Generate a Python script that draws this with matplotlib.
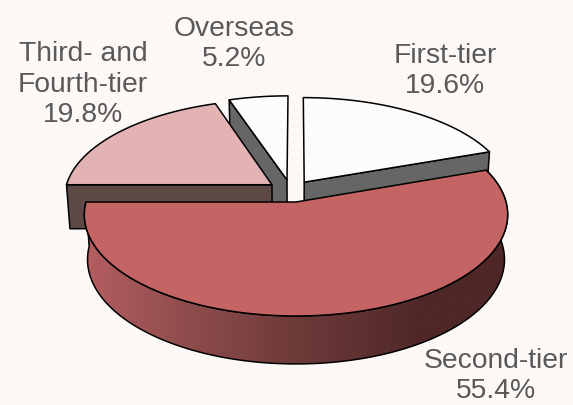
#!/usr/bin/env python
"""Exploded 3D pie of revenue share by city tier, drawn with polygons in pixel coordinates."""

import numpy as np
import matplotlib
matplotlib.use('Agg')
import matplotlib.pyplot as plt
from matplotlib.colors import LinearSegmentedColormap
from matplotlib.patches import Polygon

# data
labels = ['First-tier', 'Second-tier', 'Third- and\nFourth-tier', 'Overseas']
shares = [19.6, 55.4, 19.8, 5.2]

# styles, same order as the data
top_colors = ['#FCFCFC', '#C46464', '#E3B3B3', '#FCFCFC']
side_colors = ['#666666', None, '#5E4947', '#666666']
offsets = [(0.04, 0.204), (0.0, 0.0), (-0.117, 0.177), (-0.044, 0.227)]
# x centre and baseline of the last line of each label
label_pos = [(445, 93), (496, 398.5), (83, 122), (234, 66)]
draw_order = [3, 0, 2, 1]

BG = '#FCF8F6'
TEXT = '#595959'
CX, CY = 296, 202
A, B, K = 210, 99.75, 0.125


def project(u, v):
    """Perspective map of the unit pie plane to the top surface, in pixels."""
    w = 1 + K * v
    return CX + A * u / w, CY - B * v / w


def drop(x, y):
    """Move a top surface point down to the bottom surface."""
    return CX + (x - CX) * 0.985, y + 44 + (y - 185) * 0.03


def arc(a0, a1, offset, n=120):
    """Rim of a slice between two clockwise angles (degrees from 12 o'clock)."""
    t = np.radians(np.linspace(a0, a1, n))
    return project(np.sin(t) + offset[0], np.cos(t) + offset[1])


fig = plt.figure(figsize=(5.73, 4.05), dpi=100, facecolor=BG)
ax = fig.add_axes([0, 0, 1, 1])
ax.set_xlim(0, 573)
ax.set_ylim(405, 0)
ax.axis('off')

edges = np.cumsum([0] + shares) * 3.6
lw = 1.1

for rank, i in enumerate(draw_order):
    z = 10 + rank
    a0, a1 = edges[i], edges[i + 1]
    off = offsets[i]
    apex = project(off[0], off[1])
    x, y = arc(a0, a1, off)

    if i == 1:
        # curved outer wall with horizontal shading, only the big slice shows one
        bx, by = drop(x, y)
        wall = np.r_[np.c_[x, y], np.c_[bx, by][::-1]]
        shade = LinearSegmentedColormap.from_list(
            'wall', [(0, '#B45E60'), (0.25, '#8E4C4C'), (0.5, '#6E3A3A'),
                     (0.8, '#4F2727'), (1, '#4F2727')])
        im = ax.imshow(np.linspace(0, 1, 256)[None, :], extent=[85, 507, 405, 0],
                       aspect='auto', cmap=shade, zorder=z)
        im.set_clip_path(Polygon(wall, closed=True, transform=ax.transData))
        ax.add_patch(Polygon(wall, closed=True, fc='none', ec='black', lw=lw, zorder=z))
    else:
        # flat cut face that looks toward the viewer
        ex, ey = (x[-1], y[-1]) if i == 0 else (x[0], y[0])
        quad = [apex, (ex, ey), drop(ex, ey), drop(*apex)]
        ax.add_patch(Polygon(quad, closed=True, fc=side_colors[i], ec='black',
                             lw=lw, joinstyle='round', zorder=z))

    face = np.r_[[apex], np.c_[x, y]]
    ax.add_patch(Polygon(face, closed=True, fc=top_colors[i], ec='black', lw=lw,
                         joinstyle='round', zorder=z + 0.5))

for name, share, (tx, ty) in zip(labels, shares, label_pos):
    ax.text(tx, ty, f'{name}\n{share}%', ha='center', va='baseline', color=TEXT,
            fontsize=20.3, family='Liberation Sans', linespacing=1.22, zorder=30)

ax.set_xlim(0, 573)
ax.set_ylim(405, 0)
fig.savefig('out.png', dpi=100, facecolor=BG)
